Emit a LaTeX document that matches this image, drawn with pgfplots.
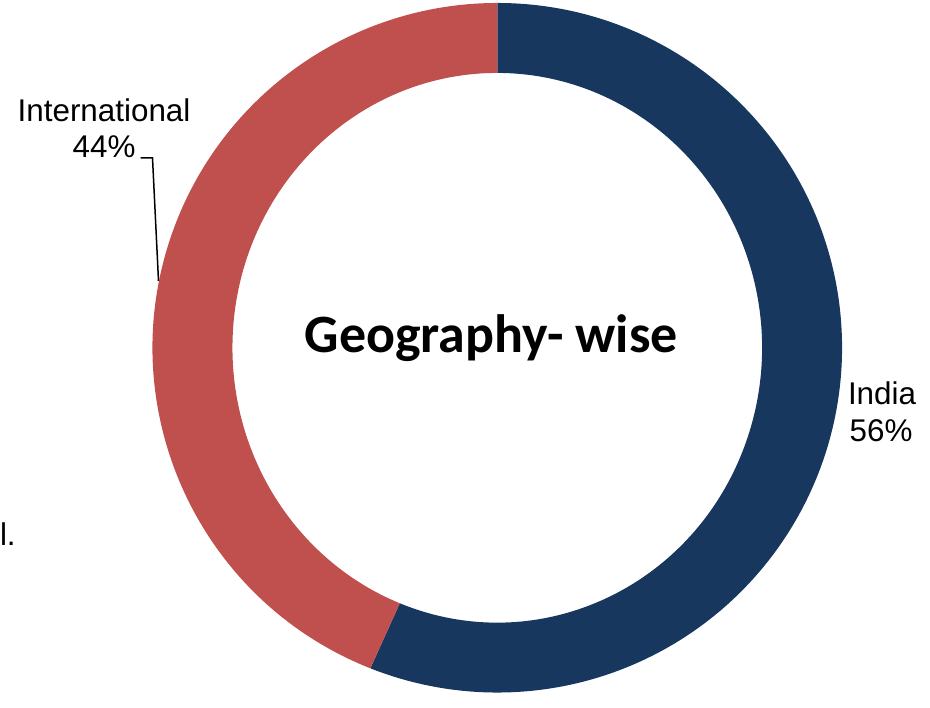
\documentclass[border=0pt]{standalone}
\usepackage{pgfplots}
\usepackage{pgfplotstable}
\pgfplotsset{compat=1.18}
\usepackage{fontspec}
\setmainfont{Liberation Sans}
\newfontfamily\carlito{Carlito}
\definecolor{indiablue}{HTML}{17375E}
\definecolor{intlred}{HTML}{C0504D}
\pgfplotstableread{
label value
India 56
International 44
}\sharetable
\begin{document}
\begin{tikzpicture}
\pgfplotstablegetelem{0}{value}\of\sharetable
\let\vIndia\pgfplotsretval
\pgfmathsetmacro\aEnd{90-3.6*\vIndia}
\pgfmathsetmacro\aEndB{\aEnd+360}
\begin{axis}[
  x=0.5pt, y=0.5pt,
  xmin=0, xmax=930, ymin=0, ymax=698,
  hide axis, clip=false, scale only axis,
]
\path (axis cs:0,0) rectangle (axis cs:930,698);
% India slice
\fill[indiablue] (axis cs:{497+345*cos(90)},{350+345*sin(90)})
  arc[start angle=90, end angle=\aEnd, radius=172.5pt]
  -- (axis cs:{497+265*cos(\aEnd)},{350+275*sin(\aEnd)})
  arc[start angle=\aEnd, end angle=90, x radius=132.5pt, y radius=137.5pt]
  -- cycle;
% International slice
\fill[intlred] (axis cs:{497+345*cos(\aEndB)},{350+345*sin(\aEndB)})
  arc[start angle=\aEndB, end angle=90, radius=172.5pt]
  -- (axis cs:{497+265*cos(90)},{350+275*sin(90)})
  arc[start angle=90, end angle=\aEndB, x radius=132.5pt, y radius=137.5pt]
  -- cycle;
% leader line
\draw[black, line width=0.75pt] (axis cs:140,540) -- (axis cs:152,540) -- (axis cs:158,417);
% labels
\node[anchor=base, inner sep=0pt, font=\fontsize{15.7}{18}\selectfont] at (axis cs:103.5,576) {International};
\node[anchor=base, inner sep=0pt, font=\fontsize{15.7}{18}\selectfont] at (axis cs:103.5,540) {44\%};
\node[anchor=base, inner sep=0pt, font=\fontsize{15.7}{18}\selectfont] at (axis cs:882,293) {India};
\node[anchor=base, inner sep=0pt, font=\fontsize{15.7}{18}\selectfont] at (axis cs:881,256) {56\%};
\node[anchor=base, inner sep=0pt, font=\carlito\bfseries\fontsize{27}{32}\selectfont] at (axis cs:491,345) {Geography- wise};
\node[anchor=base west, inner sep=0pt, font=\fontsize{15.7}{18}\selectfont] at (axis cs:-1,152) {l.};
\end{axis}
\end{tikzpicture}
\end{document}
